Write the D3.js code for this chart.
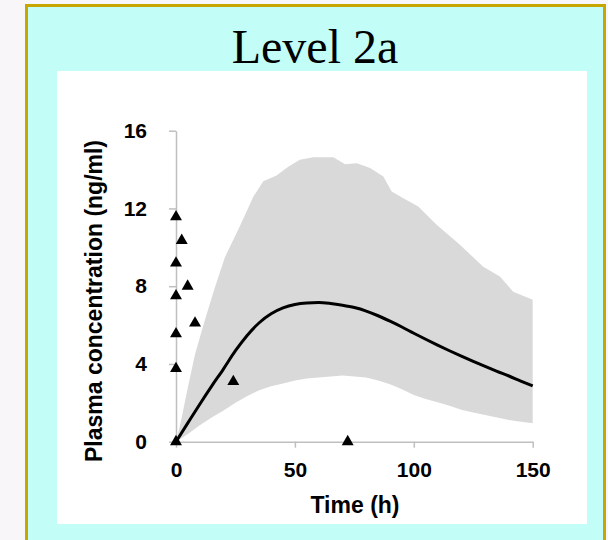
<!DOCTYPE html>
<html>
<head>
<meta charset="utf-8">
<script src="https://cdn.jsdelivr.net/npm/d3@7/dist/d3.min.js"></script>
<style>
  html, body { margin: 0; padding: 0; background: #f8f6f8; }
  svg { display: block; }
</style>
</head>
<body>
<script>
// Simulated plasma concentration over time: median profile with a prediction band,
// plus observed concentrations as triangles.
const title = "Level 2a";
const xLabel = "Time (h)";
const yLabel = "Plasma concentration (ng/ml)";
const xTicks = [0, 50, 100, 150];
const yTicks = [0, 4, 8, 12, 16];

// median prediction (ng/ml) at time points (h)
const medianTime = [0, 5, 10, 15, 20, 25, 30, 35, 40, 45, 50, 55, 60, 65, 70, 75, 80, 85, 90, 95, 100, 105, 110, 115, 120, 125, 130, 135, 140, 145, 150];
const medianConc = [0, 0.97, 1.93, 2.86, 3.75, 4.68, 5.48, 6.12, 6.58, 6.88, 7.06, 7.14, 7.16, 7.11, 7.02, 6.9, 6.72, 6.48, 6.2, 5.9, 5.58, 5.27, 4.97, 4.68, 4.4, 4.13, 3.87, 3.62, 3.38, 3.12, 2.87];

// upper bound of the prediction band
const upperTime = [0, 2, 5, 8, 12, 16, 20.6, 26.9, 32.5, 36.7, 42.3, 47.2, 52.1, 57.8, 66.2, 71.1, 76, 81.6, 87.2, 90.7, 95.6, 101.9, 109.6, 119.4, 129.2, 136.2, 141.8, 150];
const upperConc = [0, 1.0, 2.8, 4.5, 6.2, 7.8, 9.5, 11.1, 12.6, 13.4, 13.7, 14.15, 14.5, 14.64, 14.64, 14.28, 14.33, 14.08, 13.65, 12.87, 12.53, 12.1, 11.16, 10.13, 9.0, 8.5, 7.72, 7.3];

// lower bound of the prediction band
const lowerTime = [0, 5, 10, 15, 20, 25, 30, 35, 40, 45, 50, 55, 60, 65, 70, 75, 80, 85, 90, 95, 100, 105, 110, 115, 120, 125, 130, 135, 140, 145, 150];
const lowerConc = [0, 0.4, 0.85, 1.25, 1.6, 2.0, 2.35, 2.65, 2.85, 3.0, 3.15, 3.25, 3.3, 3.35, 3.4, 3.35, 3.3, 3.15, 2.95, 2.7, 2.4, 2.2, 2.03, 1.85, 1.65, 1.5, 1.38, 1.25, 1.12, 1.02, 0.95];

// observed concentrations
const obsTime = [0, 0, 0, 0, 0, 0, 2.4, 4.9, 8.0, 24.1, 72.2];
const obsConc = [0, 3.76, 5.55, 7.5, 9.19, 11.57, 10.35, 8.0, 6.1, 3.09, 0];

const W = 608, H = 540;
const svg = d3.select("body").append("svg").attr("width", W).attr("height", H);

// panel: cyan slide box with gold frame, white plotting card inside
svg.append("rect").attr("x", 26.5).attr("y", 5.5).attr("width", 578).attr("height", 600)
  .attr("fill", "#c2fdf7").attr("stroke", "#c8a600").attr("stroke-width", 3);
svg.append("rect").attr("x", 57).attr("y", 71).attr("width", 530).attr("height", 453)
  .attr("fill", "#ffffff");

svg.append("text").attr("x", 315).attr("y", 63).attr("text-anchor", "middle")
  .attr("font-family", "'Liberation Serif', 'Times New Roman', serif")
  .attr("font-size", 48).attr("fill", "#000").text(title);

const x = d3.scaleLinear().domain([0, 150]).range([176, 532.7]);
const y = d3.scaleLinear().domain([0, 16]).range([441.7, 130.7]);

// prediction band
const upperPts = upperTime.map((t, i) => [t, upperConc[i]]);
const lowerPts = lowerTime.map((t, i) => [t, lowerConc[i]]);
const bandPts = upperPts.concat(lowerPts.slice().reverse());
svg.append("path")
  .attr("d", d3.line().x(d => x(d[0])).y(d => y(d[1])).curve(d3.curveLinearClosed)(bandPts))
  .attr("fill", "#d9d9d9");

// axes
const axisColor = "#bfbfbf";
const font = "'Liberation Sans', Arial, sans-serif";
const gx = svg.append("g").attr("transform", `translate(0,${y(0)})`)
  .call(d3.axisBottom(x).tickValues(xTicks).tickSize(6).tickPadding(14).tickSizeOuter(0));
const gy = svg.append("g").attr("transform", `translate(${x(0)},0)`)
  .call(d3.axisLeft(y).tickValues(yTicks).tickSize(7).tickPadding(22).tickSizeOuter(0));
[gx, gy].forEach(g => {
  g.select(".domain").attr("stroke", axisColor).attr("stroke-width", 1.5);
  g.selectAll(".tick line").attr("stroke", axisColor).attr("stroke-width", 1.5);
  g.selectAll(".tick text").attr("fill", "#000").attr("font-family", font)
    .attr("font-weight", "bold").attr("font-size", 21);
});

// median curve
const medPts = medianTime.map((t, i) => [t, medianConc[i]]);
svg.append("path")
  .attr("d", d3.line().x(d => x(d[0])).y(d => y(d[1])).curve(d3.curveMonotoneX)(medPts))
  .attr("fill", "none").attr("stroke", "#000").attr("stroke-width", 3);

// observations
svg.append("g").selectAll("path").data(obsTime.map((t, i) => [t, obsConc[i]])).join("path")
  .attr("transform", d => `translate(${x(d[0])},${y(d[1])})`)
  .attr("d", d3.symbol(d3.symbolTriangle, 62))
  .attr("fill", "#000");

// axis titles
svg.append("text").attr("x", 355).attr("y", 513).attr("text-anchor", "middle")
  .attr("font-family", font).attr("font-weight", "bold").attr("font-size", 23)
  .attr("fill", "#000").text(xLabel);
svg.append("text").attr("transform", "translate(102,301) rotate(-90)").attr("text-anchor", "middle")
  .attr("font-family", font).attr("font-weight", "bold").attr("font-size", 23)
  .attr("fill", "#000").text(yLabel);
</script>
</body>
</html>
